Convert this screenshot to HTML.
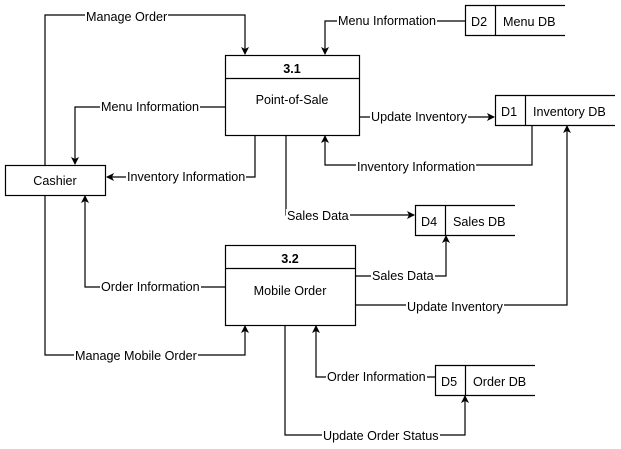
<!DOCTYPE html>
<html><head><style>
html,body{margin:0;padding:0;background:#fff;}
#w{position:relative;width:621px;height:449px;overflow:hidden;}
svg{display:block;position:absolute;left:0;top:0;}
text{font-family:"Liberation Sans",Arial,sans-serif;font-size:12.6px;fill:#000;}
.l{fill:none;stroke:#000;stroke-width:1.2;}
.t{position:absolute;font-family:"Liberation Sans",Arial,sans-serif;font-size:12.6px;line-height:14px;background:#fff;white-space:nowrap;color:#000;padding:0 1px;margin-left:-1px;}
</style></head><body><div id="w">
<svg width="621" height="449" viewBox="0 0 621 449" xmlns="http://www.w3.org/2000/svg">
<defs><marker id="a" markerWidth="8" markerHeight="8" refX="7" refY="4" orient="auto" markerUnits="userSpaceOnUse"><path d="M0,0 L8,4 L0,8 L2,4 z" fill="#000"/></marker></defs>
<polyline class="l" points="45,165 45,15 245,15 245,54" marker-end="url(#a)"/>
<polyline class="l" points="465,21 325,21 325,54" marker-end="url(#a)"/>
<polyline class="l" points="225,107 75,107 75,164" marker-end="url(#a)"/>
<polyline class="l" points="255,135 255,177 107,177" marker-end="url(#a)"/>
<polyline class="l" points="360,117 494,117" marker-end="url(#a)"/>
<polyline class="l" points="532,125 532,165 325,165 325,136" marker-end="url(#a)"/>
<polyline class="l" points="286,135 286,215 414,215" marker-end="url(#a)"/>
<polyline class="l" points="356,276 446,276 446,236" marker-end="url(#a)"/>
<polyline class="l" points="356,305 567,305 567,126" marker-end="url(#a)"/>
<polyline class="l" points="225,287 85,287 85,196" marker-end="url(#a)"/>
<polyline class="l" points="45,195 45,355 245,355 245,326" marker-end="url(#a)"/>
<polyline class="l" points="435,377 316,377 316,326" marker-end="url(#a)"/>
<polyline class="l" points="285,326 285,435 465,435 465,396" marker-end="url(#a)"/>
<rect x="225.5" y="55.5" width="134" height="80" fill="#fff" stroke="#000" stroke-width="1.2"/>
<line class="l" x1="225" y1="78.5" x2="360" y2="78.5"/>
<text x="292" y="73" text-anchor="middle" font-weight="bold">3.1</text>
<text x="292" y="104" text-anchor="middle">Point-of-Sale</text>
<rect x="225.5" y="245.5" width="130" height="80" fill="#fff" stroke="#000" stroke-width="1.2"/>
<line class="l" x1="225" y1="268.5" x2="356" y2="268.5"/>
<text x="290" y="263" text-anchor="middle" font-weight="bold">3.2</text>
<text x="290" y="295" text-anchor="middle">Mobile Order</text>
<rect x="5.5" y="165.5" width="100" height="30" fill="#fff" stroke="#000" stroke-width="1.2"/>
<text x="55" y="185" text-anchor="middle">Cashier</text>
<g fill="none" stroke="#000" stroke-width="1.2">
<path d="M565,5.5 H465.5 V35.5 H565 M495.5,5.5 V35.5"/>
<path d="M615,95.5 H495.5 V125.5 H615 M525.5,95.5 V125.5"/>
<path d="M515,205.5 H415.5 V235.5 H515 M445.5,205.5 V235.5"/>
<path d="M535,365.5 H435.5 V395.5 H535 M465.5,365.5 V395.5"/>
</g>
<text x="471" y="26">D2</text><text x="503" y="26">Menu DB</text>
<text x="501" y="116">D1</text><text x="533" y="116">Inventory DB</text>
<text x="421" y="226">D4</text><text x="453" y="226">Sales DB</text>
<text x="441" y="386">D5</text><text x="473" y="386">Order DB</text>
</svg>
<div class="t" style="left:86px;top:10px">Manage Order</div>
<div class="t" style="left:338px;top:14px">Menu Information</div>
<div class="t" style="left:101px;top:100px">Menu Information</div>
<div class="t" style="left:127px;top:170px">Inventory Information</div>
<div class="t" style="left:371px;top:110px">Update Inventory</div>
<div class="t" style="left:357px;top:160px">Inventory Information</div>
<div class="t" style="left:287px;top:209px">Sales Data</div>
<div class="t" style="left:372px;top:269px">Sales Data</div>
<div class="t" style="left:407px;top:300px">Update Inventory</div>
<div class="t" style="left:101px;top:280px">Order Information</div>
<div class="t" style="left:75px;top:349px">Manage Mobile Order</div>
<div class="t" style="left:327px;top:370px">Order Information</div>
<div class="t" style="left:323px;top:429px">Update Order Status</div>
</div></body></html>
